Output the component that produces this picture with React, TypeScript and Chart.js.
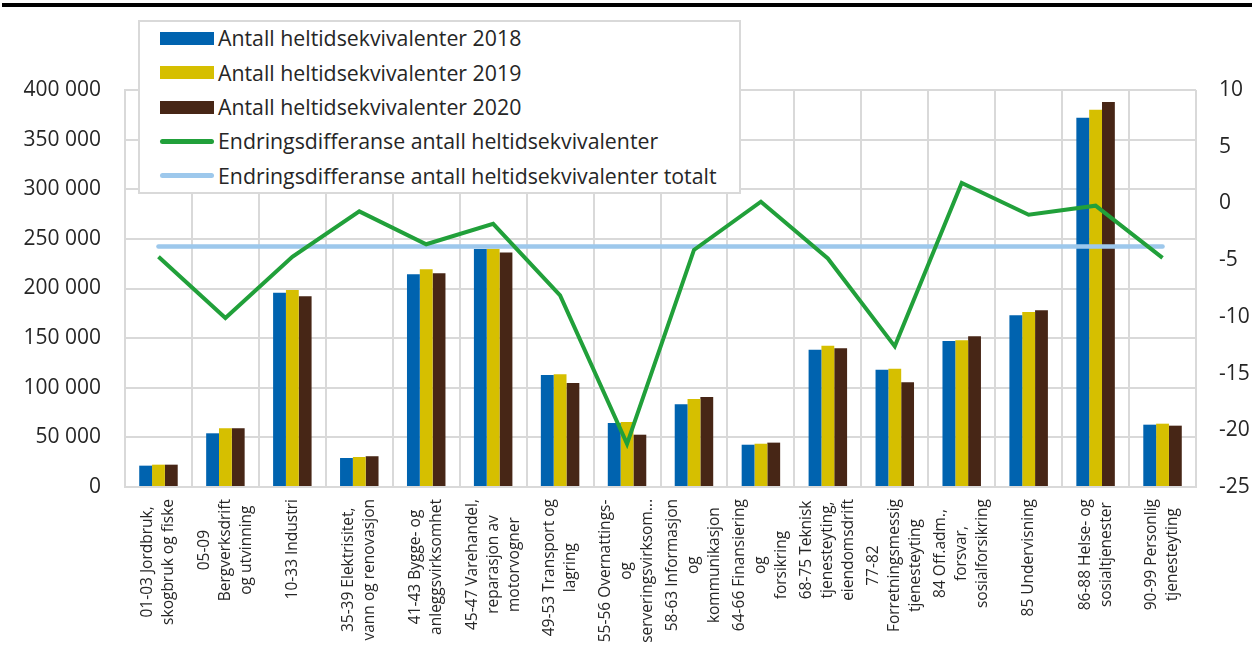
import React, { useEffect, useRef } from "react";
import { Chart, registerables } from "chart.js";

Chart.register(...registerables);

const categories: string[][] = [
  ["01-03 Jordbruk,", "skogbruk og fiske"],
  ["05-09", "Bergverksdrift", "og utvinning"],
  ["10-33 Industri"],
  ["35-39 Elektrisitet,", "vann og renovasjon"],
  ["41-43 Bygge- og", "anleggsvirksomhet"],
  ["45-47 Varehandel,", "reparasjon av", "motorvogner"],
  ["49-53 Transport og", "lagring"],
  ["55-56 Overnattings-", "og", "serveringsvirksom..."],
  ["58-63 Informasjon", "og", "kommunikasjon"],
  ["64-66 Finansiering", "og", "forsikring"],
  ["68-75 Teknisk", "tjenesteyting,", "eiendomsdrift"],
  ["77-82", "Forretningsmessig", "tjenesteyting"],
  ["84 Off.adm.,", "forsvar,", "sosialforsikring"],
  ["85 Undervisning"],
  ["86-88 Helse- og", "sosialtjenester"],
  ["90-99 Personlig", "tjenesteyting"],
];

const seriesNames = [
  "Antall heltidsekvivalenter 2018",
  "Antall heltidsekvivalenter 2019",
  "Antall heltidsekvivalenter 2020",
  "Endringsdifferanse antall heltidsekvivalenter",
  "Endringsdifferanse antall heltidsekvivalenter totalt",
];

const fte2018 = [21500, 54100, 195600, 29200, 214400, 239900, 112900, 64500, 83300, 42600, 138400, 118200, 147200, 173000, 372000, 62800];
const fte2019 = [22500, 59200, 198600, 30200, 219400, 240000, 113600, 65500, 88700, 43600, 142400, 119200, 147800, 176400, 380000, 63800];
const fte2020 = [22500, 59200, 192200, 31000, 215400, 236200, 104800, 52700, 90700, 44700, 139800, 105500, 151900, 178100, 387800, 61800];
const changeDiff = [-4.7, -10.1, -4.7, -0.7, -3.6, -1.8, -8.1, -21.2, -4.1, 0.15, -4.85, -12.6, 1.8, -1.0, -0.2, -4.8];
const changeTotal = [-3.8, -3.8, -3.8, -3.8, -3.8, -3.8, -3.8, -3.8, -3.8, -3.8, -3.8, -3.8, -3.8, -3.8, -3.8, -3.8];

const leftMin = 0;
const leftMax = 400000;
const leftStep = 50000;
const rightMin = -25;
const rightMax = 10;
const rightStep = 5;

const COLORS = {
  y2018: "#0063af",
  y2019: "#d6bf00",
  y2020: "#472616",
  diff: "#21a03a",
  total: "#9dc8ec",
  grid: "#d9d9d9",
  text: "#262626",
};

const FONT = '"Open Sans", "DejaVu Sans", sans-serif';

const xLabelPlugin = {
  id: "xLabelPlugin",
  afterDraw(chart: any) {
    const ctx = chart.ctx as CanvasRenderingContext2D;
    const xs = chart.scales.x;
    ctx.save();
    ctx.font = `15.5px ${FONT}`;
    ctx.fillStyle = COLORS.text;
    ctx.textBaseline = "middle";
    ctx.textAlign = "center";
    const lh = 21;
    categories.forEach((lines, i) => {
      const x = xs.getPixelForValue(i);
      const maxW = Math.max(...lines.map((l) => ctx.measureText(l).width));
      const n = lines.length;
      ctx.save();
      ctx.translate(x, xs.top + 12);
      ctx.rotate(-Math.PI / 2);
      lines.forEach((line, j) => {
        ctx.fillText(line, -maxW / 2, (j - (n - 1) / 2) * lh);
      });
      ctx.restore();
    });
    ctx.restore();
  },
};

const legendItems = [
  { label: seriesNames[0], color: COLORS.y2018, kind: "bar" },
  { label: seriesNames[1], color: COLORS.y2019, kind: "bar" },
  { label: seriesNames[2], color: COLORS.y2020, kind: "bar" },
  { label: seriesNames[3], color: COLORS.diff, kind: "line" },
  { label: seriesNames[4], color: COLORS.total, kind: "line" },
];

export default function App() {
  const canvasRef = useRef<HTMLCanvasElement | null>(null);

  useEffect(() => {
    if (!canvasRef.current) return;
    const fmt = (v: number) => String(Math.round(v)).replace(/\B(?=(\d{3})+(?!\d))/g, " ");
    const chart = new Chart(canvasRef.current, {
      type: "bar",
      data: {
        labels: categories.map((c) => c.join(" ")),
        datasets: [
          { type: "bar", label: seriesNames[0], data: fte2018, backgroundColor: COLORS.y2018, yAxisID: "y", order: 3, borderWidth: 0 },
          { type: "bar", label: seriesNames[1], data: fte2019, backgroundColor: COLORS.y2019, yAxisID: "y", order: 3, borderWidth: 0 },
          { type: "bar", label: seriesNames[2], data: fte2020, backgroundColor: COLORS.y2020, yAxisID: "y", order: 3, borderWidth: 0 },
          {
            type: "line", label: seriesNames[3], data: changeDiff, borderColor: COLORS.diff, backgroundColor: COLORS.diff,
            borderWidth: 4, pointRadius: 0, tension: 0, yAxisID: "y1", order: 1, borderJoinStyle: "miter", borderCapStyle: "butt",
          },
          {
            type: "line", label: seriesNames[4], data: changeTotal, borderColor: COLORS.total, backgroundColor: COLORS.total,
            borderWidth: 4.5, pointRadius: 0, tension: 0, yAxisID: "y1", order: 2, borderCapStyle: "round",
          },
        ] as any,
      },
      options: {
        animation: false,
        responsive: false,
        devicePixelRatio: 1,
        maintainAspectRatio: false,
        layout: { padding: { top: 90, left: 0, right: 0, bottom: 0 } },
        datasets: { bar: { categoryPercentage: 0.575, barPercentage: 1 } } as any,
        plugins: { legend: { display: false }, tooltip: { enabled: false } },
        scales: {
          x: {
            offset: true,
            grid: { color: COLORS.grid, lineWidth: 2, drawTicks: false, offset: true },
            border: { color: COLORS.grid, width: 2 },
            ticks: { display: false },
            afterFit: (s: any) => { s.height = 165; },
          },
          y: {
            position: "left",
            min: leftMin,
            max: leftMax,
            grid: { color: COLORS.grid, lineWidth: 2, drawTicks: false },
            border: { color: COLORS.grid, width: 2 },
            ticks: { stepSize: leftStep, padding: 24, color: COLORS.text, font: { family: FONT, size: 21 }, callback: (v: any) => fmt(Number(v)) },
            afterFit: (s: any) => { s.width = 125; },
          },
          y1: {
            position: "right",
            min: rightMin,
            max: rightMax,
            grid: { display: false, drawTicks: false },
            border: { display: false },
            ticks: { stepSize: rightStep, padding: 23, color: COLORS.text, font: { family: FONT, size: 21 } },
            afterFit: (s: any) => { s.width = 56; },
          },
        },
      } as any,
      plugins: [xLabelPlugin],
    });
    return () => chart.destroy();
  }, []);

  return (
    <div style={{ position: "fixed", left: 0, top: 0, width: 1252, height: 652, background: "#fff", overflow: "hidden" }}>
      <div style={{ position: "absolute", left: 2, top: 3, width: 1250, height: 4, background: "#000" }} />
      <canvas ref={canvasRef} width={1252} height={652} style={{ position: "absolute", left: 0, top: 0, width: 1252, height: 652 }} />
      <div
        style={{
          position: "absolute", left: 138, top: 20, width: 599, height: 170,
          border: "2px solid #d9d9d9", background: "#fff",
        }}
      />
      {legendItems.map((it, i) => {
        const cy = 38.3 + 34.35 * i;
        return (
          <div key={i} style={{ position: "absolute", left: 160, top: cy - 17, height: 34, display: "flex", alignItems: "center", whiteSpace: "nowrap" }}>
            <div
              style={{
                width: 54,
                height: it.kind === "bar" ? 13 : 4.5,
                background: it.color,
                borderRadius: it.kind === "bar" ? 0 : 3,
                marginRight: 4,
              }}
            />
            <span style={{ fontFamily: FONT, fontSize: 21.3, color: COLORS.text, lineHeight: "34px" }}>{it.label}</span>
          </div>
        );
      })}
    </div>
  );
}
